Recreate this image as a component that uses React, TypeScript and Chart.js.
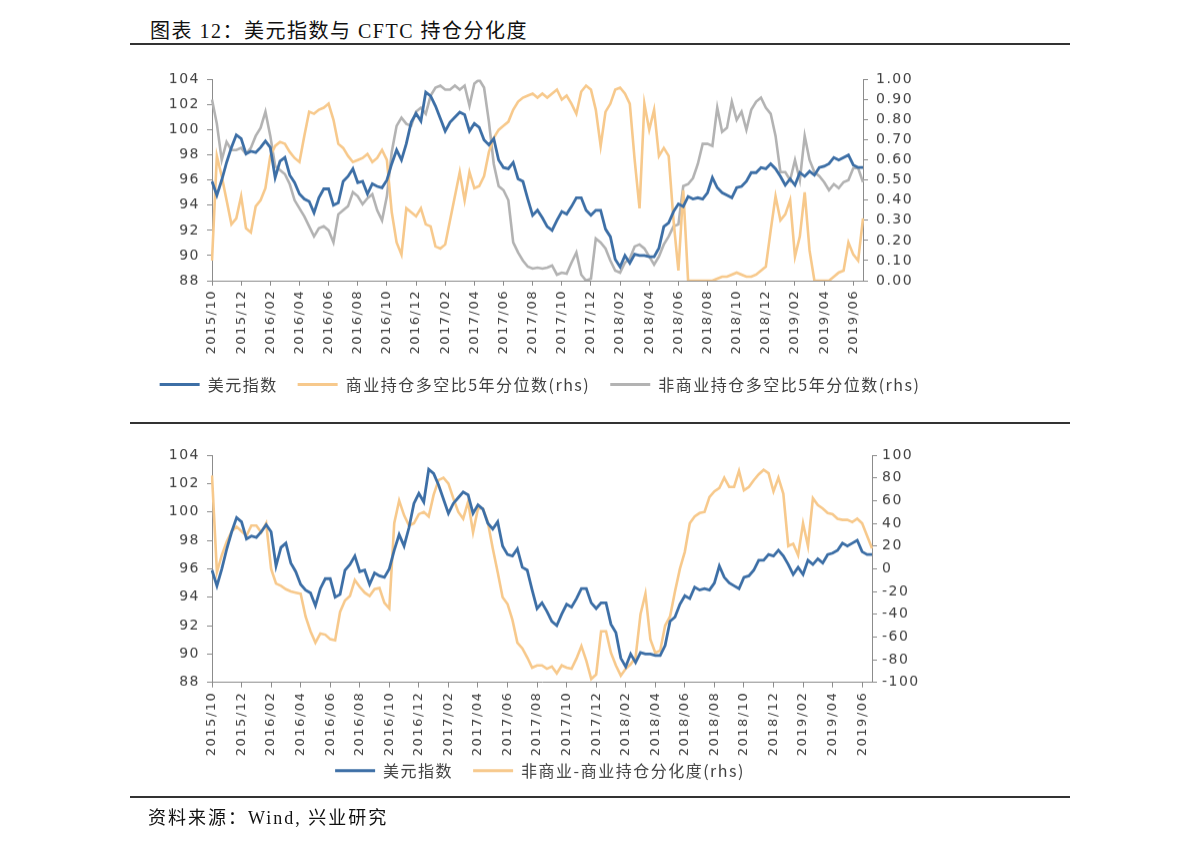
import React, { useEffect, useRef } from 'react';
import { Chart, registerables } from 'chart.js';

Chart.register(...registerables);

// ---- data (3 observations per month, 2015/10 .. 2019/06) ----
const tickLabels = [
  '2015/10', '2015/12', '2016/02', '2016/04', '2016/06', '2016/08', '2016/10', '2016/12',
  '2017/02', '2017/04', '2017/06', '2017/08', '2017/10', '2017/12', '2018/02', '2018/04',
  '2018/06', '2018/08', '2018/10', '2018/12', '2019/02', '2019/04', '2019/06',
];

const dxy = [
  95.9, 94.8, 96.0, 97.4, 98.6, 99.6, 99.3, 98.1, 98.3, 98.2,
  98.6, 99.1, 98.6, 96.2, 97.5, 97.8, 96.4, 95.8, 94.9, 94.5,
  94.3, 93.4, 94.6, 95.3, 95.3, 94.0, 94.2, 95.9, 96.3, 96.9,
  95.8, 95.9, 94.9, 95.7, 95.5, 95.4, 96.0, 97.3, 98.4, 97.6,
  98.9, 100.6, 101.3, 100.7, 103.0, 102.7, 101.9, 100.9, 99.9, 100.6,
  101.0, 101.4, 101.2, 99.9, 100.5, 100.2, 99.2, 98.8, 99.3, 97.6,
  97.0, 96.9, 97.4, 96.1, 95.9, 94.5, 93.2, 93.6, 93.0, 92.3,
  92.0, 92.8, 93.5, 93.3, 93.9, 94.6, 94.6, 93.6, 93.2, 93.6,
  93.6, 92.1, 91.5, 89.7, 89.1, 90.0, 89.4, 90.1, 90.0, 90.0,
  89.9, 89.9, 90.6, 92.3, 92.6, 93.5, 94.1, 93.9, 94.7, 94.5,
  94.6, 94.5, 95.0, 96.2, 95.4, 95.0, 94.8, 94.6, 95.4, 95.5,
  95.9, 96.6, 96.6, 97.0, 96.9, 97.3, 96.9, 96.3, 95.6, 96.1,
  95.6, 96.6, 96.3, 96.7, 96.4, 97.0, 97.1, 97.3, 97.8, 97.6,
  97.8, 98.0, 97.2, 97.0, 97.0,
];

const commercialPct = [
  0.10, 0.62, 0.52, 0.40, 0.28, 0.31, 0.42, 0.26, 0.24, 0.37,
  0.40, 0.46, 0.62, 0.67, 0.69, 0.68, 0.64, 0.61, 0.59, 0.72,
  0.84, 0.83, 0.85, 0.86, 0.88, 0.80, 0.68, 0.66, 0.62, 0.59,
  0.60, 0.61, 0.63, 0.59, 0.61, 0.65, 0.60, 0.34, 0.19, 0.13,
  0.36, 0.34, 0.32, 0.36, 0.28, 0.27, 0.17, 0.16, 0.18, 0.30,
  0.42, 0.54, 0.40, 0.54, 0.46, 0.47, 0.52, 0.64, 0.71, 0.75,
  0.77, 0.79, 0.85, 0.89, 0.91, 0.92, 0.93, 0.91, 0.93, 0.91,
  0.93, 0.95, 0.90, 0.92, 0.88, 0.83, 0.94, 0.97, 0.95, 0.85,
  0.67, 0.84, 0.88, 0.95, 0.96, 0.93, 0.88, 0.60, 0.36, 0.88,
  0.75, 0.85, 0.62, 0.66, 0.62, 0.30, 0.05, 0.45, 0.00, 0.00,
  0.00, 0.00, 0.00, 0.00, 0.01, 0.02, 0.02, 0.03, 0.04, 0.03,
  0.02, 0.02, 0.03, 0.05, 0.07, 0.25, 0.42, 0.30, 0.33, 0.40,
  0.12, 0.22, 0.44, 0.15, 0.00, 0.00, 0.00, 0.00, 0.02, 0.04,
  0.05, 0.19, 0.13, 0.10, 0.31,
];

const nonCommercialPct = [
  0.90, 0.78, 0.60, 0.69, 0.65, 0.65, 0.66, 0.63, 0.66, 0.72,
  0.76, 0.84, 0.72, 0.57, 0.55, 0.53, 0.48, 0.40, 0.36, 0.32,
  0.27, 0.22, 0.26, 0.27, 0.25, 0.19, 0.33, 0.35, 0.37, 0.44,
  0.42, 0.38, 0.41, 0.43, 0.35, 0.30, 0.42, 0.64, 0.77, 0.81,
  0.78, 0.77, 0.84, 0.86, 0.83, 0.92, 0.96, 0.97, 0.95, 0.95,
  0.97, 0.95, 0.97, 0.87, 0.98, 1.00, 0.96, 0.79, 0.58, 0.47,
  0.45, 0.40, 0.19, 0.14, 0.10, 0.07, 0.06, 0.065, 0.06, 0.065,
  0.075, 0.03, 0.04, 0.035, 0.09, 0.14, 0.03, 0.00, 0.01, 0.21,
  0.19, 0.16, 0.10, 0.05, 0.04, 0.09, 0.11, 0.17, 0.18, 0.16,
  0.12, 0.08, 0.12, 0.18, 0.22, 0.27, 0.28, 0.47, 0.48, 0.51,
  0.58, 0.68, 0.68, 0.67, 0.86, 0.74, 0.76, 0.89, 0.80, 0.84,
  0.75, 0.85, 0.89, 0.91, 0.86, 0.83, 0.72, 0.54, 0.54, 0.50,
  0.60, 0.50, 0.72, 0.60, 0.54, 0.52, 0.49, 0.45, 0.48, 0.46,
  0.49, 0.50, 0.56, 0.56, 0.49,
];

const divergence = [
  82, -3, 12, 24, 33, 37, 33, 29, 38, 38,
  32, 40, 0, -13, -15, -18, -20, -21, -22, -42,
  -55, -65, -57, -58, -62, -63, -38, -28, -24, -10,
  -16, -21, -24, -18, -17, -30, -35, 40, 60, 47,
  38, 40, 48, 50, 46, 65, 78, 80, 75, 62,
  50, 44, 59, 32, 53, 53, 41, 18, -3, -25,
  -31, -45, -65, -70, -78, -87, -85, -85, -88, -86,
  -92, -85, -87, -88, -79, -68, -81, -97, -93, -55,
  -55, -74, -85, -94, -88, -84, -78, -40, -22, -62,
  -74, -72, -50, -42, -20, 0, 15, 40, 46, 49,
  50, 63, 68, 71, 80, 72, 72, 86, 69, 72,
  78, 83, 87, 84, 68, 80, 66, 20, 22, 12,
  40, 20, 62, 56, 53, 49, 48, 44, 43, 43,
  41, 44, 40, 29, 18,
];

const leftTicks = { min: 88, max: 104, step: 2 };
const rightTicks1 = { min: 0, max: 1, step: 0.1 };
const rightTicks2 = { min: -100, max: 100, step: 20 };

const legend1 = ['美元指数', '商业持仓多空比5年分位数(rhs)', '非商业持仓多空比5年分位数(rhs)'];
const legend2 = ['美元指数', '非商业-商业持仓分化度(rhs)'];

// category labels: 1st, 11th and 21st of each month starting 2015/10
const categories: string[] = dxy.map((_, i) => {
  const m = 9 + Math.floor(i / 3);
  const y = 2015 + Math.floor(m / 12);
  const mo = (m % 12) + 1;
  const d = [1, 11, 21][i % 3];
  return `${y}/${String(mo).padStart(2, '0')}/${String(d).padStart(2, '0')}`;
});

const BLUE = '#3d6fa6';
const ORANGE = '#f7c98c';
const GRAY = '#b3b3b3';
const AXIS = '#8c8c8c';
const TEXT = '#404040';
const TICK_FONT = { family: '"DejaVu Sans", sans-serif', size: 14 };
const XTICK_FONT = { family: '"DejaVu Sans", sans-serif', size: 13 };
const LEGEND_FONT = { family: '"Noto Sans CJK SC", sans-serif', size: 16 };
const LEGEND_PAD = 20;

// letter spacing of all canvas text (the reference uses widely spaced glyphs)
const spacingPlugin = {
  id: 'letterSpacing',
  beforeUpdate: (chart: any) => { chart.ctx.letterSpacing = '1.5px'; },
  beforeDraw: (chart: any) => { chart.ctx.letterSpacing = '1.5px'; },
};

// moves the legend up by dy pixels after layout (legend sits closer to the tick labels)
function legendShift(dy: number) {
  return {
    id: 'legendShift',
    afterLayout: (chart: any) => {
      const l = chart.legend;
      if (l) { l.top += dy; l.bottom += dy; }
    },
  };
}

function xScale(height: number) {
  return {
    type: 'category',
    offset: false,
    border: { color: AXIS, width: 1 },
    grid: {
      drawOnChartArea: false,
      drawTicks: true,
      tickLength: 5,
      color: (c: any) => (c.index % 6 === 0 ? AXIS : 'rgba(0,0,0,0)'),
    },
    ticks: {
      autoSkip: false,
      maxRotation: 90,
      minRotation: 90,
      padding: 4,
      color: TEXT,
      font: XTICK_FONT,
      callback: (_v: any, i: number) => (i % 6 === 0 ? tickLabels[i / 6] : ''),
    },
    afterFit: (s: any) => { s.height = height; },
  };
}

function yScale(pos: 'left' | 'right', t: { min: number; max: number; step: number }, width: number, fmt: (v: number) => string, pad: number) {
  return {
    type: 'linear',
    position: pos,
    min: t.min,
    max: t.max,
    border: { color: AXIS, width: 1 },
    grid: { drawOnChartArea: false, tickLength: 5, color: AXIS },
    ticks: { stepSize: t.step, autoSkip: false, padding: pad, color: TEXT, font: TICK_FONT, callback: (v: any) => fmt(Number(v)) },
    afterFit: (s: any) => { s.width = width; },
  };
}

function legendOpts() {
  return {
    display: true,
    position: 'bottom',
    align: 'center',
    labels: {
      boxWidth: 40,
      boxHeight: 3,
      padding: LEGEND_PAD,
      color: TEXT,
      font: LEGEND_FONT,
      generateLabels: (chart: any) =>
        chart.data.datasets.map((ds: any, i: number) => ({
          text: ds.label,
          fillStyle: ds.borderColor,
          strokeStyle: ds.borderColor,
          lineWidth: 0,
          hidden: false,
          datasetIndex: i,
          fontColor: TEXT,
        })),
    },
  };
}

function lineDs(label: string, data: number[], color: string, axis: string, width = 2.6) {
  return {
    label,
    data,
    borderColor: color,
    backgroundColor: color,
    borderWidth: width,
    pointRadius: 0,
    tension: 0,
    fill: false,
    yAxisID: axis,
  };
}

function ChartCanvas({ config, style }: { config: any; style: React.CSSProperties }) {
  const ref = useRef<HTMLCanvasElement | null>(null);
  useEffect(() => {
    if (!ref.current) return;
    const chart = new Chart(ref.current, config);
    return () => chart.destroy();
  }, []);
  return (
    <div style={{ position: 'absolute', ...style }}>
      <canvas ref={ref} />
    </div>
  );
}

// legend height = font + padding + 10; its text centre = top + padding + font/2
const config1 = {
  type: 'line',
  data: {
    labels: categories,
    datasets: [
      lineDs(legend1[0], dxy, BLUE, 'y', 2.8),
      lineDs(legend1[1], commercialPct, ORANGE, 'y1'),
      lineDs(legend1[2], nonCommercialPct, GRAY, 'y1'),
    ],
  },
  plugins: [spacingPlugin],
  options: {
    animation: false,
    responsive: true,
    maintainAspectRatio: false,
    layout: { padding: { top: 19.5, left: 0, right: 0, bottom: 0 } },
    plugins: { legend: legendOpts(), tooltip: { enabled: false } },
    scales: {
      x: xScale(75.5),
      y: yScale('left', leftTicks, 82, (v) => String(v), 7),
      y1: yScale('right', rightTicks1, 87, (v) => v.toFixed(2), 8),
    },
  },
};

const config2 = {
  type: 'line',
  data: {
    labels: categories,
    datasets: [
      lineDs(legend2[0], dxy, BLUE, 'y', 2.8),
      lineDs(legend2[1], divergence, ORANGE, 'y1'),
    ],
  },
  plugins: [spacingPlugin, legendShift(-16)],
  options: {
    animation: false,
    responsive: true,
    maintainAspectRatio: false,
    layout: { padding: { top: 25, left: 0, right: 0, bottom: 0 } },
    plugins: { legend: legendOpts(), tooltip: { enabled: false } },
    scales: {
      x: xScale(76),
      y: yScale('left', leftTicks, 82, (v) => String(v), 7),
      y1: yScale('right', rightTicks2, 78, (v) => String(Math.round(v)), 5),
    },
  },
};

const serif = '"Liberation Serif", "Noto Sans CJK SC", serif';

export default function App() {
  return (
    <div style={{ position: 'absolute', left: 0, top: 0, width: 1191, height: 845, background: '#fff', overflow: 'hidden' }}>
      <div style={{ position: 'absolute', left: 150, top: 15, fontFamily: serif, fontSize: 20, letterSpacing: 1.5, color: '#111', whiteSpace: 'nowrap' }}>
        图表 12：美元指数与 CFTC 持仓分化度
      </div>
      <div style={{ position: 'absolute', left: 130, top: 43, width: 940, height: 2, background: '#333' }} />
      <ChartCanvas config={config1} style={{ left: 130, top: 60, width: 820, height: 341.5 }} />
      <div style={{ position: 'absolute', left: 130, top: 422, width: 940, height: 1.5, background: '#333' }} />
      <ChartCanvas config={config2} style={{ left: 130, top: 430, width: 820, height: 373.7 }} />
      <div style={{ position: 'absolute', left: 130, top: 796, width: 940, height: 2, background: '#333' }} />
      <div style={{ position: 'absolute', left: 148, top: 803, fontFamily: serif, fontSize: 18, letterSpacing: 2, color: '#111', whiteSpace: 'nowrap' }}>
        资料来源：Wind, 兴业研究
      </div>
    </div>
  );
}
